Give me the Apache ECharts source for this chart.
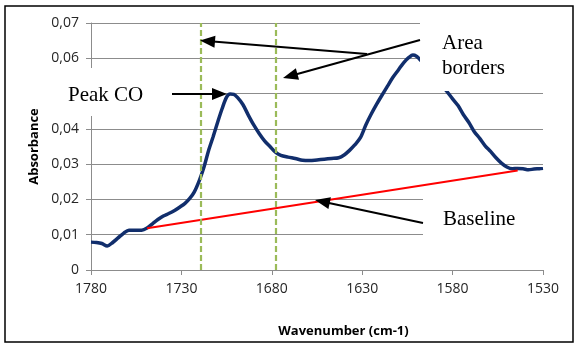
<!DOCTYPE html>
<html>
<head>
<meta charset="utf-8">
<script src="https://cdn.jsdelivr.net/npm/echarts@6/dist/echarts.min.js"></script>
<style>
html,body{margin:0;padding:0;background:#fff;}
#chart{width:574px;height:344px;}
</style>
</head>
<body>
<div id="chart"></div>
<script>
// ---- data ----
var wavenumbers = [1780,1777,1774,1771,1768,1765,1762,1759,1755,1752,1749,1746,1743,1740,1737,1734,1731,1728,1725.5,1723,1720,1717.5,1715,1712.5,1710,1707.5,1705,1703,1701,1699,1696,1693,1690,1687,1684,1681,1678,1675,1671,1667,1663,1659,1655,1651,1647,1643,1640,1637,1634,1631,1628,1625,1622,1619,1616,1613,1610,1607,1604,1602,1600,1598,1595,1592,1589,1586,1583,1580,1577,1574,1571,1568,1565,1562,1559,1556,1553,1550,1547,1544,1541,1538,1535,1532,1530];
var absorbance = [0.0079,0.0078,0.0075,0.0068,0.0078,0.0091,0.0104,0.0113,0.0113,0.0113,0.0119,0.0131,0.0143,0.0153,0.0160,0.0168,0.0178,0.0189,0.0202,0.0220,0.0255,0.0292,0.0338,0.0377,0.0418,0.0457,0.0490,0.0499,0.0498,0.0489,0.0469,0.0439,0.0411,0.0387,0.0366,0.0350,0.0334,0.0325,0.0320,0.0316,0.0311,0.0310,0.0312,0.0314,0.0316,0.0318,0.0326,0.0339,0.0355,0.0375,0.0411,0.0442,0.0470,0.0496,0.0521,0.0546,0.0567,0.0588,0.0603,0.0609,0.0606,0.0596,0.0580,0.0562,0.0544,0.0525,0.0505,0.0485,0.0466,0.0440,0.0418,0.0392,0.0373,0.0352,0.0336,0.0318,0.0303,0.0292,0.0287,0.0288,0.0287,0.0284,0.0286,0.0287,0.0288];
var baselineWavenumbers = [1749, 1544];
var baselineValues = [0.0118, 0.0282];
var areaBorders = [1719.3, 1677.7];
var xTicks = {min: 1530, max: 1780, step: 50};
var yTicks = {min: 0, max: 0.07, step: 0.01};
var annotationTexts = ['Peak CO', 'Area', 'borders', 'Baseline'];

var chart = echarts.init(document.getElementById('chart'), null, {renderer: 'canvas'});

var gray = '#8c8c8c';
var lblFont = '"Open Sans", "DejaVu Sans", sans-serif';
var serif = '"Liberation Serif", "DejaVu Serif", serif';

function arrow(x1, y1, x2, y2) {
  var dx = x2 - x1, dy = y2 - y1, L = Math.sqrt(dx*dx + dy*dy);
  var ux = dx / L, uy = dy / L, hl = 15, hw = 6;
  var bx = x2 - ux * hl, by = y2 - uy * hl;
  return [
    {type: 'line', z: 10, shape: {x1: x1, y1: y1, x2: bx + ux*2, y2: by + uy*2},
     style: {stroke: '#000', lineWidth: 2}},
    {type: 'polygon', z: 10, shape: {points: [[x2, y2], [bx - uy*hw, by + ux*hw], [bx + uy*hw, by - ux*hw]]},
     style: {fill: '#000'}}
  ];
}

function txt(s, x, y) {
  return {type: 'text', z: 10, x: x, y: y,
    style: {text: s, font: '21px ' + serif, fill: '#000', textVerticalAlign: 'middle', textAlign: 'left'}};
}

var graphics = [
  {type: 'rect', z: 20, shape: {x: 5, y: 6, width: 568, height: 336},
   style: {fill: 'none', stroke: '#000', lineWidth: 1.5}},
  {type: 'rect', z: 1, shape: {x: 45, y: 68, width: 170, height: 48}, style: {fill: '#fff'}},
  {type: 'rect', z: 3, shape: {x: 420, y: 12, width: 145, height: 79}, style: {fill: '#fff'}},
  {type: 'rect', z: 1, shape: {x: 423, y: 188, width: 130, height: 60}, style: {fill: '#fff'}},
  txt(annotationTexts[0], 68, 95),
  txt(annotationTexts[1], 442, 43.5),
  txt(annotationTexts[2], 442, 68.5),
  txt(annotationTexts[3], 443, 219)
].concat(arrow(367, 54, 200, 40.5))
 .concat(arrow(420, 40, 283, 78))
 .concat(arrow(172, 94, 227, 94))
 .concat(arrow(423, 223, 315, 200));

var option = {
  animation: false,
  backgroundColor: '#fff',
  grid: {left: 91, right: 31, top: 23, bottom: 74, containLabel: false},
  xAxis: {
    type: 'value', inverse: true,
    min: xTicks.min, max: xTicks.max, interval: xTicks.step,
    name: 'Wavenumber (cm-1)', nameLocation: 'middle', nameGap: 55,
    nameTextStyle: {fontFamily: lblFont, fontWeight: 'bold', fontSize: 13, color: '#000', padding: [0, 0, 0, 53]},
    axisLine: {show: true, lineStyle: {color: gray, width: 1}},
    axisTick: {show: true, length: 5, inside: false, lineStyle: {color: gray}},
    axisLabel: {fontFamily: lblFont, fontSize: 14, color: '#262626', margin: 12,
      formatter: function (v) { return String(Math.round(v)); }},
    splitLine: {show: false}
  },
  yAxis: {
    type: 'value', min: yTicks.min, max: yTicks.max, interval: yTicks.step,
    name: 'Absorbance', nameLocation: 'middle', nameGap: 46,
    nameTextStyle: {fontFamily: lblFont, fontWeight: 'bold', fontSize: 13, color: '#000'},
    axisLine: {show: true, lineStyle: {color: gray, width: 1}},
    axisTick: {show: true, length: 5, inside: false, lineStyle: {color: gray}},
    axisLabel: {fontFamily: lblFont, fontSize: 14, color: '#262626', margin: 12,
      formatter: function (v) { return v === 0 ? '0' : v.toFixed(2).replace('.', ','); }},
    splitLine: {show: true, lineStyle: {color: gray, width: 1}}
  },
  series: [
    {
      name: 'Spectrum', type: 'line', z: 2,
      data: wavenumbers.map(function (w, i) { return [w, absorbance[i]]; }),
      showSymbol: false, symbol: 'none', smooth: 0.3,
      lineStyle: {color: '#112e6c', width: 3.5},
      markLine: {
        silent: true, symbol: ['none', 'none'], label: {show: false},
        lineStyle: {color: '#9bbb59', width: 2.2, type: [6, 3]},
        data: areaBorders.map(function (w) {
          return [{coord: [w, yTicks.min]}, {coord: [w, yTicks.max]}];
        })
      }
    },
    {
      name: 'Baseline', type: 'line', z: 2,
      data: baselineWavenumbers.map(function (w, i) { return [w, baselineValues[i]]; }),
      showSymbol: false, symbol: 'none',
      lineStyle: {color: '#ff0000', width: 2}
    }
  ],
  graphic: graphics
};
chart.setOption(option);
</script>
</body>
</html>
